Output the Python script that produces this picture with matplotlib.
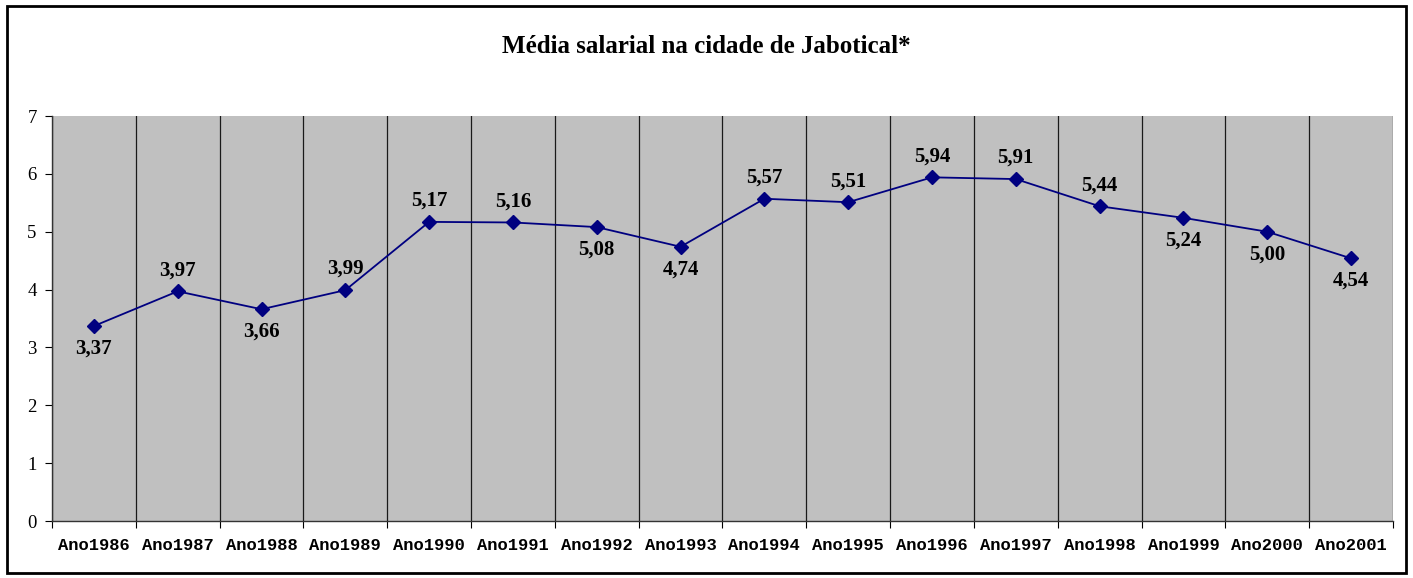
import numpy as np
import matplotlib.pyplot as plt
from matplotlib.patches import Rectangle

years = ["Ano1986", "Ano1987", "Ano1988", "Ano1989", "Ano1990", "Ano1991",
         "Ano1992", "Ano1993", "Ano1994", "Ano1995", "Ano1996", "Ano1997",
         "Ano1998", "Ano1999", "Ano2000", "Ano2001"]
salario = [3.37, 3.97, 3.66, 3.99, 5.17, 5.16, 5.08, 4.74, 5.57, 5.51,
           5.94, 5.91, 5.44, 5.24, 5.00, 4.54]
label_above = [False, True, False, True, True, True, False, False, True, True,
               True, True, True, False, False, False]
title = "Média salarial na cidade de Jabotical*"

SERIF = ["Liberation Serif", "DejaVu Serif"]
MONO = ["Liberation Mono", "DejaVu Sans Mono"]


def main():
    fig = plt.figure(figsize=(14.13, 5.78), dpi=100)
    fig.patches.append(Rectangle((0.005, 0.008), 0.99, 0.982, transform=fig.transFigure,
                                 fill=False, edgecolor="black", linewidth=2))
    ax = fig.add_axes([0.0368, 0.0986, 0.949, 0.7007])
    ax.set_facecolor("#c0c0c0")

    x = np.arange(len(years))
    ax.plot(x, salario, color="#000080", linewidth=1.3, marker="D", markersize=7,
            markerfacecolor="#000080", markeredgecolor="#000080", zorder=3)

    for xi, v, up in zip(x, salario, label_above):
        txt = "{:.2f}".format(v).replace(".", ",")
        ax.annotate(txt, (xi, v), xytext=(0, 8 if up else -9), textcoords="offset points",
                    ha="center", va="bottom" if up else "top",
                    fontsize=15, fontweight="bold", family=SERIF)

    ax.set_xlim(-0.5, len(years) - 0.5)
    ax.set_ylim(0, 7)
    ax.set_yticks(range(0, 8))
    ax.set_xticks(x)
    ax.set_xticklabels(years, family=MONO, fontweight="bold", fontsize=12.3)
    ax.set_xticks(np.arange(-0.5, len(years)), minor=True)
    ax.tick_params(axis="x", which="major", length=0, pad=12)
    ax.tick_params(axis="x", which="minor", length=5, direction="out", width=0.8)
    ax.tick_params(axis="y", length=5, direction="out", width=0.8, pad=6)
    for lbl in ax.get_yticklabels():
        lbl.set_family(SERIF)
        lbl.set_fontsize(13.5)
    ax.grid(True, which="minor", axis="x", color="#1a1a1a", linewidth=0.9)

    for side in ["top", "right"]:
        ax.spines[side].set_visible(False)
    ax.spines["left"].set_linewidth(1.0)
    ax.spines["bottom"].set_linewidth(1.0)
    ax.spines["left"].set_color("#333333")
    ax.spines["bottom"].set_color("#333333")

    fig.text(0.5, 0.92, title, ha="center", va="center", fontsize=18,
             fontweight="bold", family=SERIF)

    fig.savefig("out.png", dpi=100)


if __name__ == "__main__":
    main()
